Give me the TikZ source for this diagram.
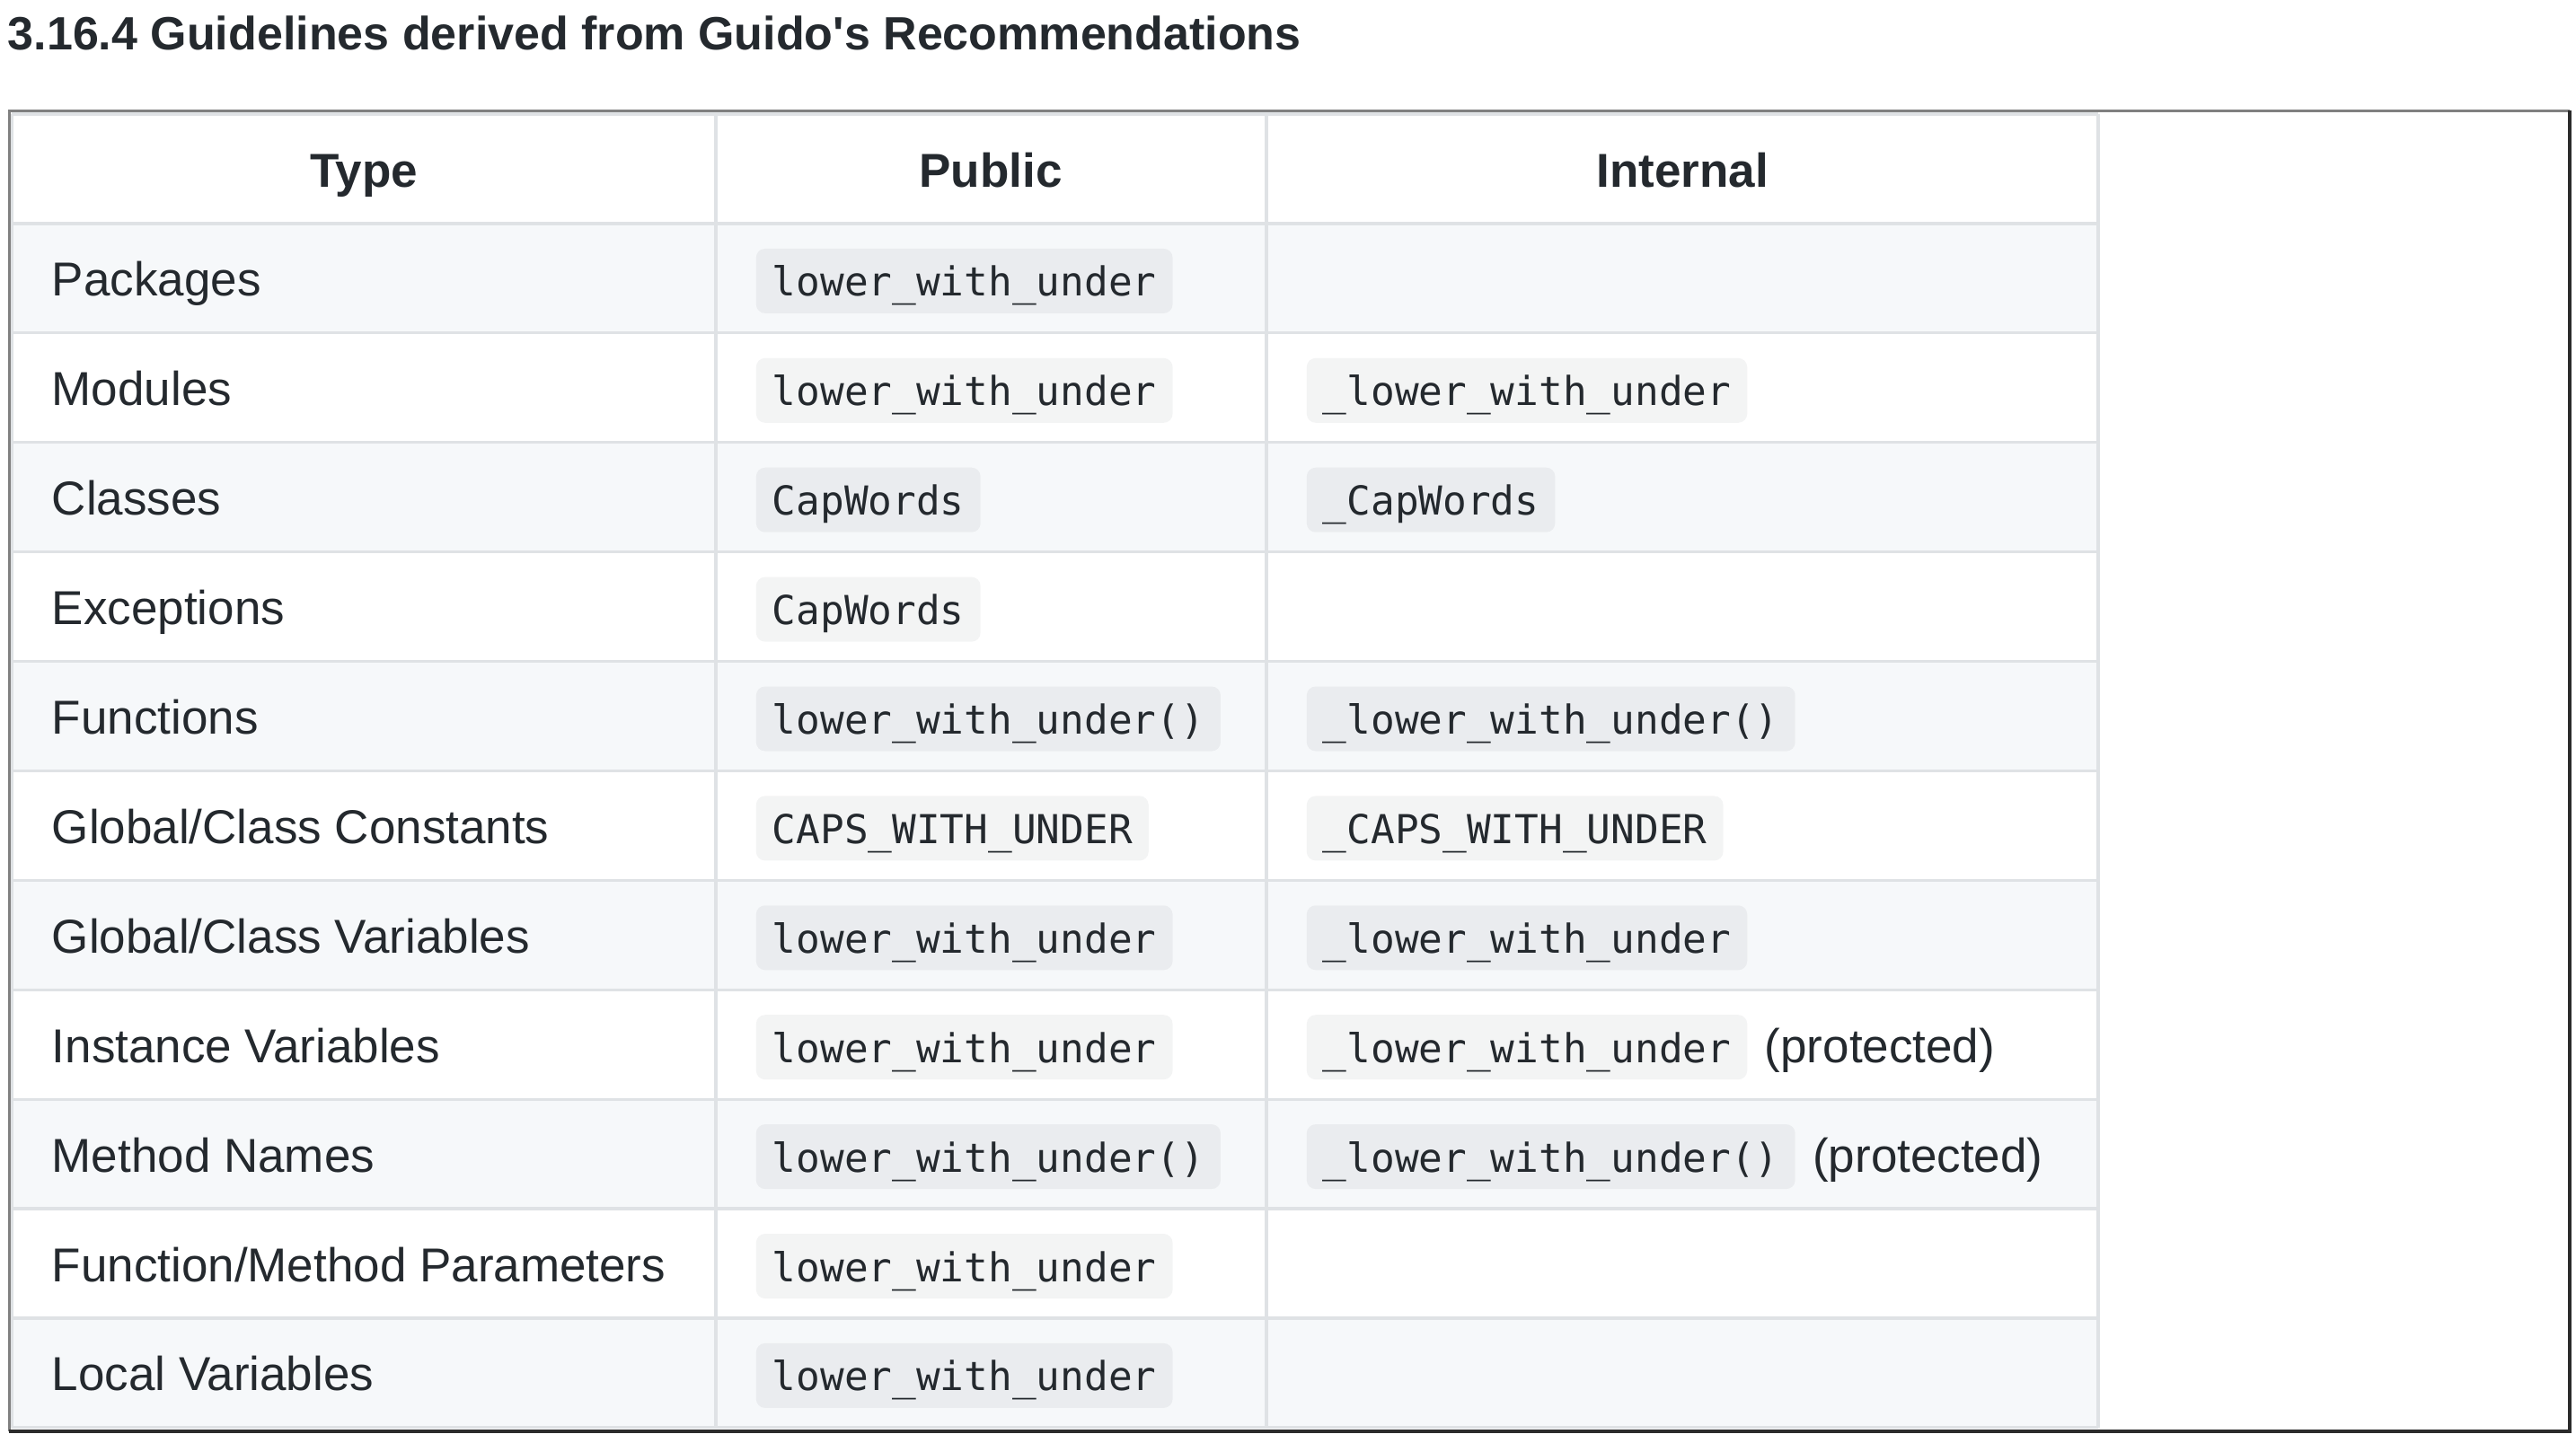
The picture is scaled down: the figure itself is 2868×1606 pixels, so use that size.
\documentclass[tikz,border=0pt]{standalone}
\usepackage{fontspec}
\setmainfont{Liberation Sans}
\setmonofont{DejaVu Sans Mono}
\definecolor{txtc}{HTML}{24292E}
\definecolor{rowgrey}{HTML}{F6F8FA}
\definecolor{gridc}{HTML}{DFE2E5}
\definecolor{pillc}{HTML}{1B1F23}
\definecolor{framegrey}{HTML}{808080}
\definecolor{framedark}{HTML}{2B2B2B}

\begin{document}
\begin{tikzpicture}[
    x=0.25pt, y=-0.25pt,
    every node/.style={font=\fontsize{13.25}{16}\selectfont, text=txtc, inner sep=0pt},
    heading/.style={anchor=base west, font=\fontsize{13}{16}\selectfont\bfseries},
    colhead/.style={anchor=base, font=\fontsize{13.25}{16}\selectfont\bfseries},
    kind/.style={anchor=base west},
    code/.style={anchor=base west, fill=pillc, fill opacity=0.05, text opacity=1,
        rounded corners=2.5pt, inner xsep=4.5pt, inner ysep=0pt,
        text height=13.25pt, text depth=4.75pt, font=\ttfamily\fontsize{11.1}{13}\selectfont},
    aside/.style={anchor=base west, xshift=4.5pt},
    cellline/.style={draw=gridc, line width=0.8pt}
]
\useasboundingbox (0,0) rectangle (2868,1606);

\node (title) [heading] at (8, 55) {3.16.4 Guidelines derived from Guido\textquotesingle s Recommendations};

% striped rows and cell borders
\foreach \i in {1,3,5,7,9,11}
    \fill [rowgrey] (13, {127+121.9*\i}) rectangle (2336, {127+121.9*(\i+1)});
\foreach \i in {0,...,12}
    \draw [cellline] (13, {127+121.9*\i}) -- (2336, {127+121.9*\i});
\foreach \x in {13,797,1410,2336}
    \draw [cellline] (\x, 127) -- (\x, 1590);

% window frame
\draw [line width=0.75pt, draw=framegrey] (10,1594) -- (10,123) -- (2861,123);
\draw [line width=1pt, draw=framedark] (2861,123) -- (2861,1594) -- (10,1594);

\node (hType) [colhead] at (405, 208) {Type};
\node (hPublic) [colhead] at (1103, 208) {Public};
\node (hInternal) [colhead] at (1873, 208) {Internal};

\node (t1) [kind] at (57, 329.9) {Packages};
\node (pub1) [code] at (841, 329.9) {lower\_with\_under};

\node (t2) [kind] at (57, 451.8) {Modules};
\node (pub2) [code] at (841, 451.8) {lower\_with\_under};
\node (int2) [code] at (1454, 451.8) {\_lower\_with\_under};

\node (t3) [kind] at (57, 573.7) {Classes};
\node (pub3) [code] at (841, 573.7) {CapWords};
\node (int3) [code] at (1454, 573.7) {\_CapWords};

\node (t4) [kind] at (57, 695.6) {Exceptions};
\node (pub4) [code] at (841, 695.6) {CapWords};

\node (t5) [kind] at (57, 817.5) {Functions};
\node (pub5) [code] at (841, 817.5) {lower\_with\_under()};
\node (int5) [code] at (1454, 817.5) {\_lower\_with\_under()};

\node (t6) [kind] at (57, 939.4) {Global/Class Constants};
\node (pub6) [code] at (841, 939.4) {CAPS\_WITH\_UNDER};
\node (int6) [code] at (1454, 939.4) {\_CAPS\_WITH\_UNDER};

\node (t7) [kind] at (57, 1061.3) {Global/Class Variables};
\node (pub7) [code] at (841, 1061.3) {lower\_with\_under};
\node (int7) [code] at (1454, 1061.3) {\_lower\_with\_under};

\node (t8) [kind] at (57, 1183.2) {Instance Variables};
\node (pub8) [code] at (841, 1183.2) {lower\_with\_under};
\node (int8) [code] at (1454, 1183.2) {\_lower\_with\_under};
\node (prot8) [aside] at (int8.base east) {(protected)};

\node (t9) [kind] at (57, 1305.1) {Method Names};
\node (pub9) [code] at (841, 1305.1) {lower\_with\_under()};
\node (int9) [code] at (1454, 1305.1) {\_lower\_with\_under()};
\node (prot9) [aside] at (int9.base east) {(protected)};

\node (t10) [kind] at (57, 1427.0) {Function/Method Parameters};
\node (pub10) [code] at (841, 1427.0) {lower\_with\_under};

\node (t11) [kind] at (57, 1548.9) {Local Variables};
\node (pub11) [code] at (841, 1548.9) {lower\_with\_under};

\end{tikzpicture}
\end{document}
